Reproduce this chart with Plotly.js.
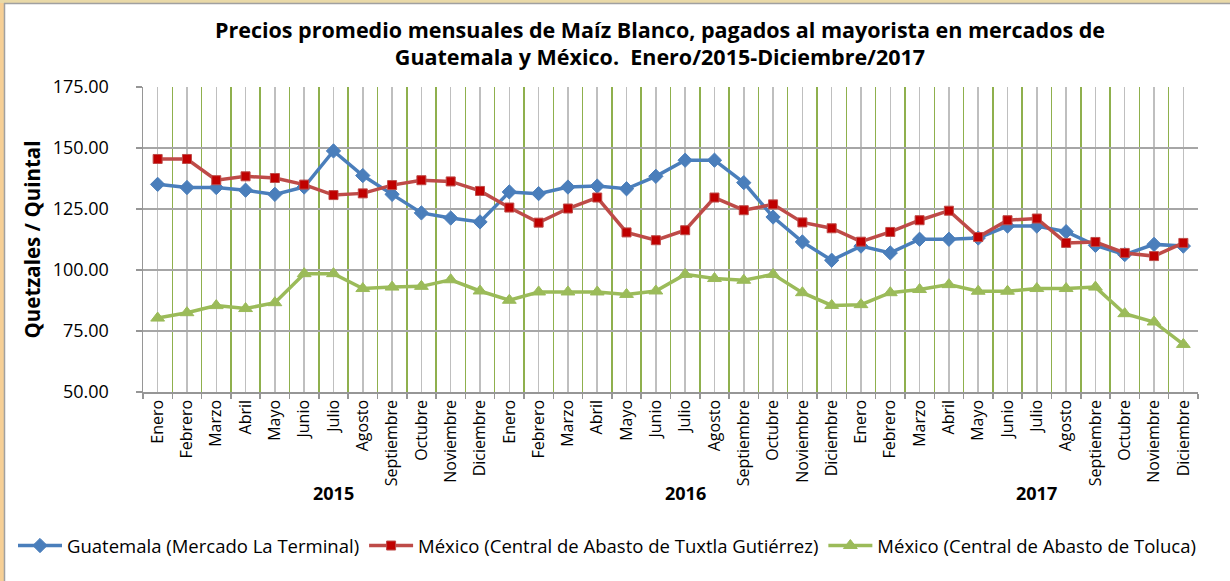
<!DOCTYPE html>
<html>
<head>
<meta charset="utf-8">
<script src="https://cdn.plot.ly/plotly-3.0.1.min.js"></script>
<style>
  html, body { margin: 0; padding: 0; background: #ffffff; }
  #chart { width: 1230px; height: 581px; }
</style>
</head>
<body>
<div id="chart"></div>
<script>
// ---- Data ----
var months = ["Enero","Febrero","Marzo","Abril","Mayo","Junio","Julio","Agosto","Septiembre","Octubre","Noviembre","Diciembre"];
var years = ["2015","2016","2017"];
var categories = [];
years.forEach(function (y) { months.forEach(function (m) { categories.push(m + " " + y); }); });
var tickLabels = [];
years.forEach(function () { months.forEach(function (m) { tickLabels.push(m); }); });

var guatemala = [135.1, 133.8, 133.8, 132.7, 131.0, 134.0, 148.8, 138.7, 131.0, 123.4, 121.3, 119.7,
                 132.0, 131.3, 134.0, 134.4, 133.3, 138.4, 145.0, 145.0, 135.8, 121.7, 111.5, 104.0,
                 109.8, 107.0, 112.6, 112.6, 113.1, 118.0, 118.0, 115.7, 110.1, 106.3, 110.5, 109.8];
var tuxtla =    [145.5, 145.5, 136.8, 138.4, 137.7, 135.0, 130.7, 131.4, 134.8, 136.8, 136.3, 132.4,
                 125.6, 119.4, 125.2, 129.7, 115.4, 112.2, 116.3, 129.7, 124.5, 126.9, 119.5, 117.1,
                 111.6, 115.6, 120.4, 124.3, 113.5, 120.4, 121.1, 111.1, 111.5, 107.0, 105.7, 111.1];
var toluca =    [80.3, 82.5, 85.4, 84.2, 86.6, 98.5, 98.5, 92.4, 93.0, 93.3, 96.0, 91.4,
                 87.6, 91.0, 91.0, 91.0, 90.0, 91.4, 98.2, 96.5, 95.8, 98.2, 90.7, 85.5,
                 85.8, 90.7, 92.0, 94.0, 91.3, 91.3, 92.4, 92.4, 93.0, 82.1, 78.7, 69.5];
var seriesNames = ["Guatemala (Mercado La Terminal)",
                   "México (Central de Abasto de Tuxtla Gutiérrez)",
                   "México (Central de Abasto de Toluca)"];
var yearLabelIndex = [6, 18, 30];

// ---- Build ----
var xIdx = categories.map(function (_, i) { return i; });
var boundaries = [];
for (var i = 0; i <= categories.length; i++) boundaries.push(i - 0.5);

var W = 1230, H = 581, ML = 143, MR = 32, MT = 87, MB = 189;
var PW = W - ML - MR, PH = H - MT - MB;
function px2x(px) { return (px - ML) / PW; }
function px2y(py) { return (H - MB - py) / PH; }

var FONT = "Open Sans, sans-serif";

var traces = [
  { x: xIdx, y: guatemala, name: seriesNames[0], type: "scatter", mode: "lines+markers",
    line: { color: "#4a7ebb", width: 3.5 },
    marker: { symbol: "diamond", size: 11, color: "#4a7ebb", line: { color: "#4a7ebb", width: 1 } } },
  { x: xIdx, y: tuxtla, name: seriesNames[1], type: "scatter", mode: "lines+markers",
    line: { color: "#be4b48", width: 3.5 },
    marker: { symbol: "square", size: 9, color: "#c00000", line: { color: "#be4b48", width: 1 } } },
  { x: xIdx, y: toluca, name: seriesNames[2], type: "scatter", mode: "lines+markers",
    line: { color: "#9bbb59", width: 3.5 },
    marker: { symbol: "triangle-up", size: 12, color: "#9bbb59", line: { color: "#9bbb59", width: 1 } } }
];

var annotations = yearLabelIndex.map(function (idx, k) {
  return { x: idx, xref: "x", y: px2y(493), yref: "paper", text: "<b>" + years[k] + "</b>",
           showarrow: false, font: { family: FONT, size: 18, color: "#000" }, xanchor: "center", yanchor: "middle" };
});

var layout = {
  width: W, height: H,
  margin: { l: ML, r: MR, t: MT, b: MB },
  paper_bgcolor: "#ffffff", plot_bgcolor: "#ffffff",
  font: { family: FONT, color: "#000" },
  title: {
    text: "<b>Precios promedio mensuales de Maíz Blanco, pagados al mayorista en mercados de<br>Guatemala y México.  Enero/2015-Diciembre/2017</b>",
    font: { family: FONT, size: 21.5, color: "#000" },
    x: px2x(660), xref: "paper", xanchor: "center", y: 1 - 37.5 / H, yanchor: "middle"
  },
  xaxis: {
    range: [-0.5, categories.length - 0.5],
    tickmode: "array", tickvals: xIdx, ticktext: tickLabels, tickangle: -90,
    tickfont: { family: FONT, size: 16, color: "#000" },
    showgrid: true, gridcolor: "#bfbfbf", gridwidth: 1.5,
    ticks: "", showline: true, linecolor: "#969696", linewidth: 1.5,
    zeroline: false, fixedrange: true,
    minor: { tickmode: "array", tickvals: boundaries, showgrid: true, gridcolor: "#8fb04d", gridwidth: 1.5,
             ticks: "outside", ticklen: 5, tickcolor: "#969696", tickwidth: 1.5 }
  },
  yaxis: {
    range: [50, 175], dtick: 25, tick0: 50, tickformat: ".2f",
    tickfont: { family: FONT, size: 18, color: "#000" },
    showgrid: true, gridcolor: "#a6a6a6", gridwidth: 1.5,
    ticks: "outside", ticklen: 6, tickcolor: "#969696", tickwidth: 1.5,
    ticklabelstandoff: 23,
    showline: true, linecolor: "#969696", linewidth: 1.5, zeroline: false, fixedrange: true,
    title: { text: "<b>Quetzales / Quintal</b>", font: { family: FONT, size: 20.5, color: "#000" }, standoff: 6 }
  },
  showlegend: true,
  legend: {
    orientation: "h", x: px2x(13), xanchor: "left", y: px2y(546), yanchor: "middle",
    font: { family: FONT, size: 18.5, color: "#000" }, itemwidth: 44,
    bgcolor: "rgba(0,0,0,0)", traceorder: "normal"
  },
  annotations: annotations,
  shapes: [
    { type: "rect", xref: "paper", yref: "paper", x0: px2x(0), x1: px2x(4), y0: px2y(581), y1: px2y(0),
      fillcolor: "#f6cf95", line: { width: 0 }, layer: "below" },
    { type: "rect", xref: "paper", yref: "paper", x0: px2x(0), x1: px2x(1230), y0: px2y(3), y1: px2y(0),
      fillcolor: "#e9d9a8", line: { width: 0 }, layer: "below" },
    { type: "line", xref: "paper", yref: "paper", x0: px2x(4.5), x1: px2x(4.5), y0: px2y(581), y1: px2y(3),
      line: { color: "#a0a0a0", width: 1.5 } },
    { type: "line", xref: "paper", yref: "paper", x0: px2x(4), x1: px2x(1230), y0: px2y(3.5), y1: px2y(3.5),
      line: { color: "#a0a0a0", width: 1.5 } }
  ]
};

Plotly.newPlot("chart", traces, layout, { displayModeBar: false, staticPlot: true });
</script>
</body>
</html>
